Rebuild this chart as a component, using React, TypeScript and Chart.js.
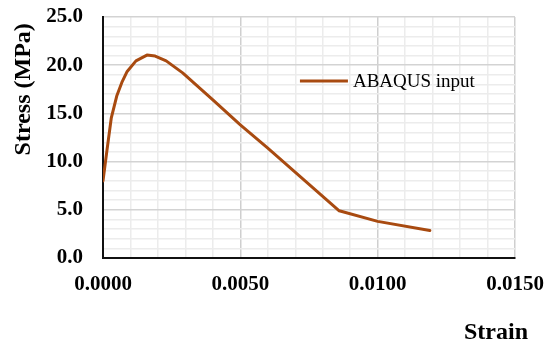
import React, { useEffect, useRef } from "react";
import { Chart, registerables } from "chart.js";

Chart.register(...registerables);

// Concrete compressive stress–strain curve used as ABAQUS input
const strain = [0, 0.00015, 0.0003, 0.0005, 0.0007, 0.00088, 0.0012, 0.0016, 0.0019, 0.0023, 0.0029, 0.004, 0.005, 0.006, 0.0086, 0.01, 0.0119];
const stress = [8.0, 11.3, 14.5, 16.8, 18.3, 19.35, 20.45, 21.05, 20.95, 20.45, 19.2, 16.4, 13.8, 11.4, 4.9, 3.8, 2.85];
const seriesLabel = "ABAQUS input";
const xTitle = "Strain";
const yTitle = "Stress (MPa)";
const xMajorTicks = [0, 0.005, 0.01, 0.015];
const yMajorTicks = [0, 5, 10, 15, 20, 25];

const LINE_COLOR = "#A84A10";
const SERIF = "'Liberation Serif', 'Times New Roman', serif";

const isMajor = (v: number, list: number[]) => list.some((m) => Math.abs(m - v) < 1e-9);

// Legend inside the plot area, plus the two axis titles
const annotations = {
  id: "annotations",
  afterDraw(chart: any) {
    const { ctx, chartArea } = chart;
    const ds = chart.data.datasets[0];
    const w = chartArea.right - chartArea.left;
    const h = chartArea.bottom - chartArea.top;
    const x0 = chartArea.left + w * 0.478;
    const y0 = chartArea.top + h * 0.266;
    ctx.save();
    ctx.strokeStyle = ds.borderColor;
    ctx.lineWidth = 3;
    ctx.beginPath();
    ctx.moveTo(x0, y0);
    ctx.lineTo(x0 + 48, y0);
    ctx.stroke();
    ctx.fillStyle = "#000";
    ctx.font = `19px ${SERIF}`;
    ctx.textBaseline = "middle";
    ctx.textAlign = "left";
    ctx.fillText(ds.label, x0 + 53, y0 + 1);

    // axis titles
    ctx.font = `bold 24px ${SERIF}`;
    ctx.textAlign = "right";
    ctx.fillText(xTitle, chartArea.right + 13, chartArea.bottom + 75);
    ctx.translate(23, chartArea.top + h * 0.3);
    ctx.rotate(-Math.PI / 2);
    ctx.textAlign = "center";
    ctx.fillText(yTitle, 0, 1);
    ctx.restore();
  },
};

export default function App() {
  const ref = useRef<HTMLCanvasElement | null>(null);

  useEffect(() => {
    if (!ref.current) return;
    const chart = new Chart(ref.current, {
      type: "line",
      data: {
        datasets: [
          {
            label: seriesLabel,
            data: strain.map((x, i) => ({ x, y: stress[i] })),
            borderColor: LINE_COLOR,
            backgroundColor: LINE_COLOR,
            borderWidth: 3,
            pointRadius: 0,
            tension: 0,
            borderCapStyle: "round",
            borderJoinStyle: "round",
          },
        ],
      },
      options: {
        animation: false,
        responsive: false,
        maintainAspectRatio: false,
        layout: { padding: { top: 17, right: 30, left: 0, bottom: 0 } },
        plugins: {
          legend: { display: false },
          tooltip: { enabled: false },
        },
        scales: {
          x: {
            type: "linear",
            min: 0,
            max: 0.015,
            afterBuildTicks: (scale: any) => {
              const t = [];
              for (let i = 0; i <= 15; i++) t.push({ value: i * 0.001 });
              scale.ticks = t;
            },
            afterFit: (scale: any) => {
              scale.height = 89;
              scale.paddingLeft = 0;
              scale.paddingRight = 0;
            },
            ticks: {
              autoSkip: false,
              maxRotation: 0,
              padding: 14,
              color: "#000",
              font: { family: SERIF, size: 21, weight: "bold" },
              callback: (v: any) => (isMajor(Number(v), xMajorTicks) ? Number(v).toFixed(4) : ""),
            },
            grid: {
              drawTicks: false,
              lineWidth: 1.5,
              color: (c: any) => (isMajor(c.tick?.value ?? 0, xMajorTicks) ? "#cfcfcf" : "#ececec"),
            },
            border: { display: true, color: "#111", width: 2 },
          },
          y: {
            type: "linear",
            min: 0,
            max: 25,
            afterBuildTicks: (scale: any) => {
              const t = [];
              for (let i = 0; i <= 25; i++) t.push({ value: i });
              scale.ticks = t;
            },
            afterFit: (scale: any) => {
              scale.width = 103;
              scale.paddingTop = 0;
              scale.paddingBottom = 0;
            },
            ticks: {
              autoSkip: false,
              padding: 20,
              color: "#000",
              font: { family: SERIF, size: 21, weight: "bold" },
              callback: (v: any) => (isMajor(Number(v), yMajorTicks) ? Number(v).toFixed(1) : ""),
            },
            grid: {
              drawTicks: false,
              lineWidth: 1.5,
              color: (c: any) => (isMajor(c.tick?.value ?? 0, yMajorTicks) ? "#d3d3d3" : "#ececec"),
            },
            border: { display: true, color: "#111", width: 2 },
          },
        },
      },
      plugins: [annotations],
    });
    return () => chart.destroy();
  }, []);

  return (
    <div style={{ position: "fixed", left: 0, top: 0, width: 545, height: 347, background: "#fff" }}>
      <canvas ref={ref} width={545} height={347} style={{ width: 545, height: 347 }} />
    </div>
  );
}
